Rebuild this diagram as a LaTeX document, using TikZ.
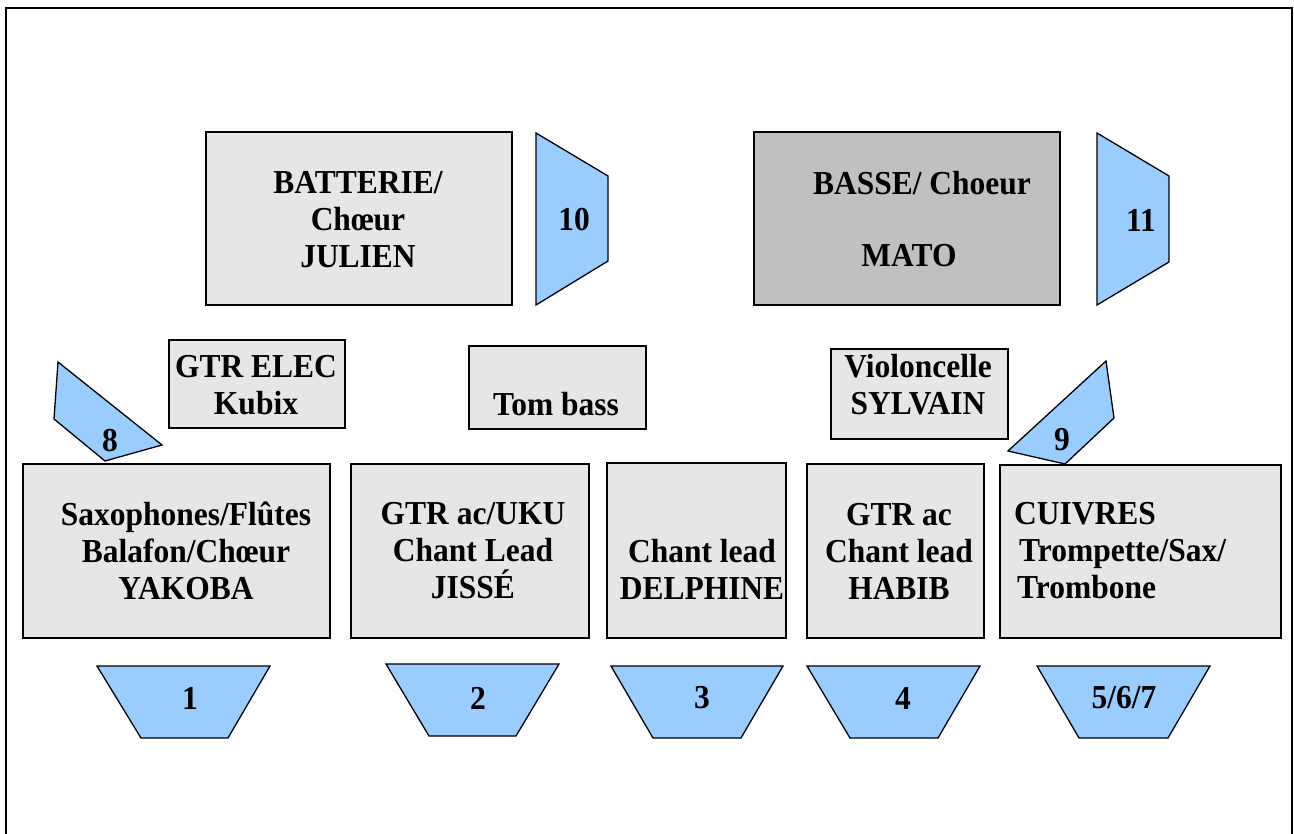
\documentclass[tikz,border=0pt]{standalone}
\usepackage{fontspec}
\setmainfont{Liberation Serif}[FakeStretch=0.94]
\definecolor{boxgray}{HTML}{E6E6E6}
\definecolor{darkgray}{HTML}{C0C0C0}
\definecolor{monblue}{HTML}{99CCFF}
\begin{document}
\begin{tikzpicture}[x=1pt,y=-1pt,
  box/.style={draw=black, line width=1.3pt, fill=boxgray, inner sep=0pt},
  wedge/.style={draw=black, line width=1.3pt, fill=monblue, line join=miter},
  lbl/.style={font=\bfseries\fontsize{33.5}{37}\selectfont, inner sep=0pt, align=center}]
\useasboundingbox (0,0) rectangle (1294,834);
\draw[line width=1.3pt] (6,834) -- (6,8) -- (1292,8) -- (1292,834);
% upper row
\node[box, minimum width=306, minimum height=173] (batt) at (359,218.5) {};
\node[lbl] (battT) at (358,220) {BATTERIE/\\Chœur\\JULIEN};
\node[box, fill=darkgray, minimum width=306, minimum height=173] (basse) at (907,218.5) {};
\node[lbl] (basseT1) at (922,183) {BASSE/ Choeur};
\node[lbl] (basseT2) at (909,256) {MATO};
\draw[wedge] (536,133) -- (608,176) -- (608,261) -- (536,305) -- cycle;
\node[lbl] (m10) at (574,220) {10};
\draw[wedge] (1097,133) -- (1169,176) -- (1169,262) -- (1097,305) -- cycle;
\node[lbl] (m11) at (1141,220) {11};
% middle row
\node[box, minimum width=176, minimum height=88] (gtrelec) at (257,384) {};
\node[lbl] (gtrelecT) at (256,385) {GTR ELEC\\Kubix};
\node[box, minimum width=177, minimum height=83] (tom) at (557.5,387.5) {};
\node[lbl] (tomT) at (556,404) {Tom bass};
\node[box, minimum width=177, minimum height=90] (violo) at (919.5,394) {};
\node[lbl] (violoT) at (918,385) {Violoncelle\\SYLVAIN};
\draw[wedge] (58,362) -- (54,419) -- (105,461) -- (162,445) -- cycle;
\node[lbl] (m8) at (110,441) {8};
\draw[wedge] (1106,361) -- (1114,418) -- (1065,464) -- (1008,451) -- cycle;
\node[lbl] (m9) at (1062,440) {9};
% lower row
\node[box, minimum width=307, minimum height=174] (yak) at (176.5,551) {};
\node[lbl] (yakT) at (186,551) {Saxophones/Flûtes\\Balafon/Chœur\\YAKOBA};
\node[box, minimum width=238, minimum height=174] (jisse) at (470,551) {};
\node[lbl] (jisseT) at (473,551) {GTR ac/UKU\\Chant Lead\\JISSÉ};
\node[box, minimum width=179, minimum height=175] (delph) at (696.5,550.5) {};
\node[lbl] (delphT) at (702,569) {Chant lead\\DELPHINE};
\node[box, minimum width=177, minimum height=174] (habib) at (895.5,551) {};
\node[lbl] (habibT) at (899,551) {GTR ac\\Chant lead\\HABIB};
\node[box, minimum width=281, minimum height=173] (cuiv) at (1140.5,551.5) {};
\node[lbl, align=left, anchor=west] (cuivT) at (1014,551) {CUIVRES\\\hspace*{5pt}Trompette/Sax/\\\hspace*{3pt}Trombone};
% monitors
\draw[wedge] (97,666) -- (270,666) -- (228,738) -- (141,738) -- cycle;
\node[lbl] (m1) at (190,698) {1};
\draw[wedge] (386,664) -- (559,664) -- (516,736) -- (429,736) -- cycle;
\node[lbl] (m2) at (478,698) {2};
\draw[wedge] (611,666) -- (783,666) -- (741,738) -- (653,738) -- cycle;
\node[lbl] (m3) at (702,698) {3};
\draw[wedge] (807,666) -- (980,666) -- (938,738) -- (850,738) -- cycle;
\node[lbl] (m4) at (903,698) {4};
\draw[wedge] (1037,666) -- (1210,666) -- (1168,738) -- (1079,738) -- cycle;
\node[lbl] (m5) at (1124,698) {5/6/7};
\end{tikzpicture}
\end{document}
